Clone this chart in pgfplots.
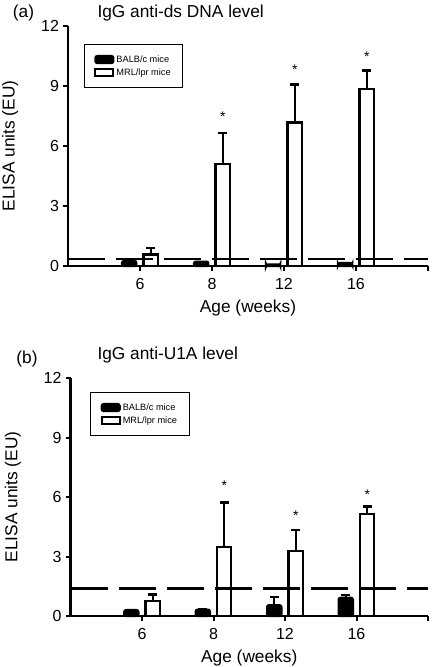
\documentclass[border=0pt]{standalone}
\usepackage{pgfplots}
\pgfplotsset{compat=1.18}
\usepackage{fontspec}
\setmainfont{Liberation Sans}
\newcommand\tf{\fontsize{16}{16}\selectfont}
\pgfplotsset{
 myax/.style={
  scale only axis, width=360pt, height=240pt,
  xmin=0, xmax=5, ymin=0, ymax=12,
  axis x line*=bottom, axis y line*=left,
  axis line style={line width=2.3pt, -},
  xtick={1,2,3,4,5}, xticklabels={{\tf 6},{\tf 8},{\tf 12},{\tf 16},{}},
  ytick={0,3,6,9,12},
  yticklabels={{\tf 0},{\tf 3},{\tf 6},{\tf 9},{\tf 12}},
  tick align=outside, major tick length=4.5pt,
  tick style={line width=2pt, black},
  xticklabel style={yshift=-4pt},
  yticklabel style={xshift=-1pt},
  label style={font=\fontsize{17.3}{18}\selectfont},
  xlabel={Age (weeks)}, ylabel={ELISA units (EU)},
  xlabel style={at={(axis description cs:0.5,-0.175)},anchor=center},
  ylabel style={at={(axis description cs:-0.161,0.5)},anchor=center},
  legend style={anchor=north west, draw=black, line width=0.9pt,
    font=\fontsize{9.2}{10}\selectfont, inner xsep=10pt, inner ysep=9pt,
    row sep=1pt, cells={anchor=west}},
  legend cell align=left,
  legend image code/.code={\draw[#1] (0pt,-3.5pt) rectangle (18pt,3.5pt);},
  clip=false,
 },
 balb/.style={ybar, bar width=0.2, bar shift=0pt, fill=black, draw=black, line width=2.2pt, rounded corners=2pt,
   error bars/y dir=plus, error bars/y explicit,
   error bars/error bar style={line width=2.2pt, black, rounded corners=0pt},
   error bars/error mark options={rotate=90, mark size=4.5pt, line width=2.4pt, black}},
 mrl/.style={ybar, bar width=0.2, bar shift=0pt, fill=white, draw=black, line width=2.2pt,
   error bars/y dir=plus, error bars/y explicit,
   error bars/error bar style={line width=2.2pt, black},
   error bars/error mark options={rotate=90, mark size=4.5pt, line width=2.4pt, black}},
 star/.style={only marks, mark=text, text mark={\fontsize{14}{14}\selectfont *}},
 thr/.style={black, line width=2.2pt, dash pattern=on 37pt off 11pt},
}
\begin{document}
\begin{tikzpicture}
% panel (a)
\begin{axis}[myax, at={(68pt,-266pt)}, anchor=south west,
  legend style={at={(axis description cs:0.044,0.925)}}]
\addplot[balb] coordinates {(0.85,0.25) (1.85,0.22) (2.85,0.08) (3.85,0.15)};
\addplot[mrl] coordinates {(1.15,0.58) +- (0,0.32) (2.15,5.12) +- (0,1.53) (3.15,7.18) +- (0,1.89) (4.15,8.85) +- (0,0.93)};
\legend{BALB/c mice, MRL/lpr mice}
\addplot[star, forget plot] coordinates {(2.15,7.45) (3.15,9.8) (4.15,10.45)};
\addplot[thr, forget plot] coordinates {(0,0.37) (5,0.37)};
\end{axis}
\node[font=\fontsize{17.3}{18}\selectfont] at (23.5pt,-13pt) {(a)};
\node[anchor=west, font=\fontsize{17.3}{18}\selectfont] at (94pt,-13pt) {IgG anti-ds DNA level};
% panel (b)
\begin{axis}[myax, at={(70.5pt,-616pt)}, anchor=south west, width=357.5pt, height=238pt,
  legend style={at={(axis description cs:0.055,0.941)}}]
\addplot[balb] coordinates {(0.85,0.3) +- (0,0) (1.85,0.32) +- (0,0) (2.85,0.55) +- (0,0.4) (3.85,0.92) +- (0,0.13)};
\addplot[mrl] coordinates {(1.15,0.77) +- (0,0.32) (2.15,3.49) +- (0,2.23) (3.15,3.29) +- (0,1.04) (4.15,5.15) +- (0,0.37)};
\legend{BALB/c mice, MRL/lpr mice}
\addplot[star, forget plot] coordinates {(2.15,6.55) (3.15,5.05) (4.15,6.12)};
\addplot[thr, forget plot] coordinates {(0,1.39) (5,1.39)};
\end{axis}
\node[font=\fontsize{17.3}{18}\selectfont] at (27pt,-359pt) {(b)};
\node[anchor=west, font=\fontsize{17.3}{18}\selectfont] at (94pt,-355pt) {IgG anti-U1A level};
\pgfresetboundingbox
\path[use as bounding box] (0pt,0pt) rectangle (432pt,-667pt);
\end{tikzpicture}
\end{document}
